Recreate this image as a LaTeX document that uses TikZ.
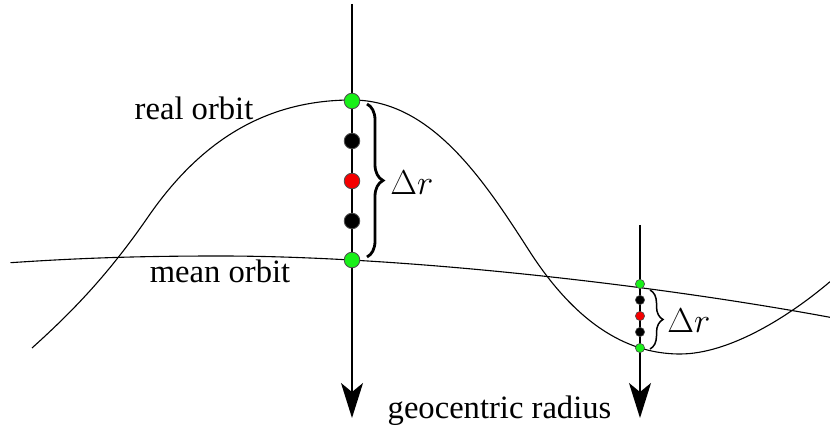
\documentclass[tikz,border=0pt]{standalone}
\usepackage{fontspec}
\setmainfont{Liberation Serif}
\usepackage{tikz}
\usetikzlibrary{arrows.meta,decorations.pathreplacing}
\definecolor{DotGreen}{RGB}{25,240,25}
\definecolor{DotRed}{RGB}{245,0,0}

\tikzset{
  orbit/.style={line width=0.55pt},
  radaxis/.style={line width=0.8pt,-{Stealth[length=17.5pt,width=11pt,inset=4.5pt]}},
  bigdot/.style={circle,draw=black!70,line width=0.4pt,inner sep=0pt,minimum size=7.8pt},
  smalldot/.style={circle,draw=black!70,line width=0.3pt,inner sep=0pt,minimum size=4.6pt},
  bigbrace/.style={line width=1.4pt,decorate,decoration={brace,amplitude=8pt}},
  smallbrace/.style={line width=0.75pt,decorate,decoration={brace,amplitude=6.5pt}},
  txt/.style={font=\fontsize{16.3pt}{19pt}\selectfont,inner sep=0pt,anchor=base},
  deltatxt/.style={font=\fontsize{17pt}{20pt}\selectfont,inner sep=0pt,anchor=base west}
}

\begin{document}
\begin{tikzpicture}[x=0.5pt,y=-0.5pt]
      \useasboundingbox (0,0) rectangle (830,432);

      \draw[orbit] (32,348) .. controls (72,312) and (108,275) .. (148,217)
                  .. controls (198,144.5) and (262,100) .. (352,100)
                  .. controls (432,100) and (485,182) .. (530,252)
                  .. controls (585,337) and (640,354) .. (680,354)
                  .. controls (730,354) and (790,315.7) .. (830,281.7);
      \draw[orbit] (10.5,262.7) .. controls (80,258) and (140,256) .. (220,256)
                  .. controls (400,256) and (650,284) .. (830,317.3);

      \coordinate (axAtop) at (352,4);
      \coordinate (axAend) at (352,418);
      \coordinate (axBtop) at (640,225);
      \coordinate (axBend) at (640,418);
      \draw[radaxis] (axAtop) -- (axAend);
      \draw[radaxis] (axBtop) -- (axBend);

      \node[bigdot,fill=DotGreen] (peakA) at (352,101) {};
      \node[bigdot,fill=black] (blkA1) at (352,141) {};
      \node[bigdot,fill=DotRed] (redA) at (352,181) {};
      \node[bigdot,fill=black] (blkA2) at (352,221) {};
      \node[bigdot,fill=DotGreen] (meanA) at (352,260) {};

      \node[smalldot,fill=DotGreen] (meanB) at (640,284) {};
      \node[smalldot,fill=black] (blkB1) at (640,300) {};
      \node[smalldot,fill=DotRed] (redB) at (640,316) {};
      \node[smalldot,fill=black] (blkB2) at (640,332) {};
      \node[smalldot,fill=DotGreen] (lowB) at (640,348) {};

      \coordinate (brAtop) at (367,104);
      \coordinate (brAbot) at (367,257);
      \coordinate (brBtop) at (650,290);
      \coordinate (brBbot) at (650,349);
      \draw[bigbrace] (brAtop) -- (brAbot);
      \draw[smallbrace] (brBtop) -- (brBbot);

      \node[deltatxt] (drA) at (390,195) {$\Delta r$};
      \node[deltatxt] (drB) at (667,333) {$\Delta r$};

      \node[txt] (realtxt) at (194,120) {real orbit};
      \node[txt] (meantxt) at (220,283) {mean orbit};
      \node[txt] (radtxt) at (499.5,419) {geocentric radius};
\end{tikzpicture}
\end{document}
